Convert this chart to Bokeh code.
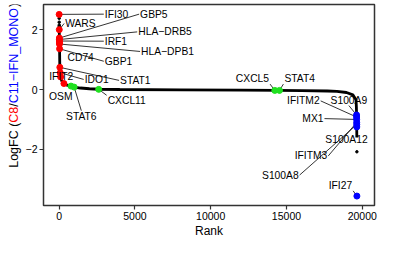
import math
from bokeh.plotting import figure
from bokeh.layouts import row
from bokeh.models import ColumnDataSource, FixedTicker
from bokeh.core.properties import value
from bokeh.embed import file_html
from bokeh.resources import INLINE

# ---- data ----
# ranked curve (rank, logFC)
curve_rank = [9, 14, 20, 28, 36, 45, 70, 95, 160, 315, 500, 780, 990, 1400, 2000,
              2610, 4000, 8000, 12000, 14400, 16000, 17700, 18330, 18960, 19380,
              19590, 19615, 19625, 19636, 19642]
curve_lfc = [2.0, 1.72, 1.57, 1.36, 1.0, 0.74, 0.56, 0.42, 0.3, 0.2, 0.15, 0.115, 0.08,
             0.05, 0.025, 0.008, 0.0, -0.01, -0.02, -0.03, -0.04, -0.05, -0.06, -0.1,
             -0.18, -0.34, -0.6, -0.85, -1.25, -1.6]
# isolated genes off the dense curve
dot_rank = [2, 3, 4, 5, 6, 7, 19646]
dot_lfc = [2.46, 2.38, 2.25, 2.15, 2.1, 2.05, -2.08]

# highlighted genes
up_genes = ["IFI30", "WARS", "GBP5", "HLA−DRB5", "IRF1", "HLA−DPB1", "CD74", "GBP1",
            "STAT1", "IDO1", "IFIT2", ""]
up_rank = [1, 8, 14, 16, 18, 20, 23, 28, 45, 70, 95, 315]
up_lfc = [2.51, 2.0, 1.72, 1.67, 1.62, 1.52, 1.57, 1.36, 0.74, 0.56, 0.42, 0.2]

mid_genes = ["OSM", "STAT6", "CXCL11", "CXCL5", "STAT4"]
mid_rank = [780, 990, 2610, 14230, 14540]
mid_lfc = [0.115, 0.08, 0.005, -0.03, -0.03]

down_genes = ["S100A9", "IFITM2", "MX1", "IFITM3", "S100A8", "S100A12", "IFI27"]
down_rank = [19625, 19628, 19631, 19634, 19637, 19640, 19648]
down_lfc = [-0.85, -0.92, -1.0, -1.1, -1.17, -1.25, -3.56]

# label placements (data coords of the leader end / text anchor)
lab_gene = ["IFI30", "GBP5", "WARS", "HLA−DRB5", "IRF1", "HLA−DPB1", "CD74", "GBP1",
            "STAT1", "IDO1", "IFIT2", "OSM", "STAT6", "CXCL11", "CXCL5", "STAT4",
            "IFITM2", "S100A9", "MX1", "S100A12", "IFITM3", "S100A8", "IFI27"]
lab_rank = [2945, 5277, 330, 5151, 2945, 5340, 486, 2945, 3953, 1620, 139, 107, 1463,
            3134, 13917, 14798, 17257, 19117, 17509, 18960, 17760, 15870, 19401]
lab_lfc = [2.517, 2.517, 2.206, 1.925, 1.614, 1.271, 1.084, 0.944, 0.305, 0.336, 0.445,
           -0.224, -0.707, -0.193, 0.181, 0.181, -0.38, -0.536, -0.972, -1.47,
           -2.218, -2.857, -3.386]
lab_align = ["left", "left", "left", "left", "left", "left", "left", "left", "left",
             "left", "center", "center", "center", "left", "right", "left", "right",
             "center", "right", "center", "right", "right", "right"]
lab_base = ["middle", "middle", "middle", "middle", "middle", "middle", "middle",
            "middle", "middle", "middle", "middle", "middle", "top", "top", "bottom",
            "bottom", "middle", "bottom", "middle", "top", "middle", "middle", "bottom"]
lab_leader = [1, 1, 1, 1, 1, 1, 0, 1, 1, 1, 0, 0, 1, 1, 1, 1, 1, 1, 1, 0, 1, 1, 1]

# axis titles
x_title = "Rank"
ytitle_parts = ["LogFC (", "C8", "/", "C11−IFN_MONO", ")"]
ytitle_colors = ["black", "red", "black", "blue", "black"]

# ---- main figure ----
H = 240
LW = 22
p = figure(width=377 - LW, height=H, x_range=(-1033, 20809), y_range=(-3.875, 2.84),
           output_backend="svg", toolbar_location=None,
           min_border_left=20, min_border_right=3, min_border_top=4, min_border_bottom=29)
p.xgrid.visible = False
p.ygrid.visible = False
p.outline_line_color = "#333333"
p.outline_line_width = 1.5
p.background_fill_color = "white"

for ax in (p.xaxis[0], p.yaxis[0]):
    ax.axis_line_color = None
    ax.major_tick_line_color = "#333333"
    ax.major_tick_line_width = 1.2
    ax.major_tick_out = 4
    ax.major_tick_in = 0
    ax.minor_tick_line_color = None
    ax.major_label_text_font = "Liberation Sans"
    ax.major_label_text_font_size = "10.5px"
    ax.major_label_text_color = "black"
    ax.major_label_standoff = 2
p.xaxis.ticker = FixedTicker(ticks=[0, 5000, 10000, 15000, 20000])
p.yaxis.ticker = FixedTicker(ticks=[-2, 0, 2])
p.yaxis.major_label_overrides = {-2: "−2", 0: "0", 2: "2"}
p.xaxis.axis_label = x_title
p.xaxis.axis_label_text_font = "Liberation Sans"
p.xaxis.axis_label_text_font_size = "12px"
p.xaxis.axis_label_text_font_style = "normal"
p.xaxis.axis_label_text_color = "black"
p.xaxis.axis_label_standoff = 1

# curve
p.line(curve_rank, curve_lfc, line_color="black", line_width=2.8)
p.scatter(dot_rank, dot_lfc, size=2.5, color="black")

# leader lines
all_name = up_genes + mid_genes + down_genes
all_rank = up_rank + mid_rank + down_rank
all_lfc = up_lfc + mid_lfc + down_lfc
pos = {n: (r, l) for n, r, l in zip(all_name, all_rank, all_lfc) if n}
x0, y0, x1, y1 = [], [], [], []
for g, r, l, f in zip(lab_gene, lab_rank, lab_lfc, lab_leader):
    if f:
        pr, pl = pos[g]
        x0.append(pr); y0.append(pl); x1.append(r); y1.append(l)
p.segment(x0, y0, x1, y1, line_color="black", line_width=0.8)

# highlighted points
p.scatter(up_rank, up_lfc, size=6, color="red")
p.scatter(mid_rank, mid_lfc, size=6, color="#1fe01f")
p.scatter(down_rank, down_lfc, size=6, color="blue")

# gene labels
dx = {"left": 1, "right": -1, "center": 0}
src = ColumnDataSource(dict(x=lab_rank, y=lab_lfc, t=lab_gene, a=lab_align, b=lab_base,
                            xo=[dx[a] for a in lab_align]))
p.text(x="x", y="y", text="t", text_align="a", text_baseline="b", x_offset="xo",
       source=src, text_font=value("Liberation Sans"), text_font_size="10.3px",
       text_color="black")

# ---- left strip holding the multi-coloured y title ----
q = figure(width=LW, height=H, x_range=(0, LW), y_range=(0, H),
           output_backend="svg", toolbar_location=None,
           x_axis_location=None, y_axis_location=None,
           min_border=0, min_border_left=0, min_border_right=0,
           min_border_top=0, min_border_bottom=0)
q.xgrid.visible = False
q.ygrid.visible = False
q.outline_line_color = None

fs = 12.5
# advance widths (em) of each piece in Liberation Sans; pieces share one anchor
# and are shifted upward by exact pixel offsets
em = {"LogFC (": 3.612, "C8": 1.278, "/": 0.278, "C11−IFN_MONO": 7.696, ")": 0.333}
offs = []
cur = 0.0
for t in ytitle_parts:
    offs.append(-cur)
    cur += em[t] * fs
n = len(ytitle_parts)
ysrc = ColumnDataSource(dict(x=[13] * n, y=[45] * n, t=ytitle_parts, c=ytitle_colors,
                             yo=offs))
q.text(x="x", y="y", text="t", text_color="c", angle=math.pi / 2, text_align="left",
       text_baseline="middle", y_offset="yo", source=ysrc,
       text_font=value("Liberation Sans"), text_font_size=f"{fs}px")

layout = row(q, p, spacing=0)
open("out.html", "w").write(file_html(layout, INLINE))
